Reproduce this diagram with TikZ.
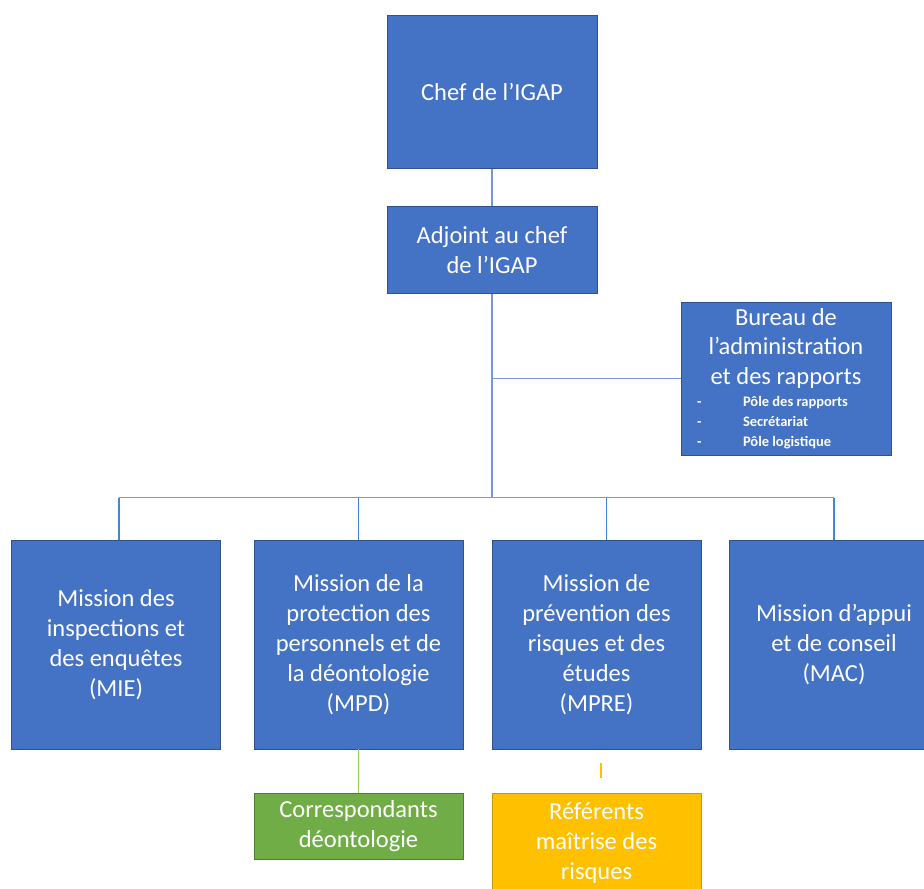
\documentclass[tikz,border=0pt]{standalone}
\usepackage{fontspec}
\setmainfont{Carlito}
\usetikzlibrary{calc}
\definecolor{boxblue}{HTML}{4472C4}
\definecolor{boxedge}{HTML}{2F528F}
\definecolor{busblue}{HTML}{7597DA}
\definecolor{dropblue}{HTML}{3C8AD6}
\definecolor{boxgreen}{HTML}{70AD47}
\definecolor{greenedge}{HTML}{507E32}
\definecolor{linkgreen}{HTML}{92D050}
\definecolor{boxorange}{HTML}{FFC000}
\definecolor{orangeedge}{HTML}{C99A06}
\begin{document}
\begin{tikzpicture}[x=1pt,y=-1pt,
    box/.style={draw=boxedge,fill=boxblue,text=white,line width=0.8pt,inner sep=0pt,
        align=center,minimum width=209pt,font=\fontsize{24.5}{30}\selectfont},
    bus/.style={draw=busblue,line width=1.4pt},
    drop/.style={draw=dropblue,line width=1.3pt}]
\useasboundingbox (0,0) rectangle (924,889);

\node[box,minimum width=210pt,minimum height=153pt] (chef) at (492,92) {Chef de l’IGAP};
\node[box,minimum width=210pt,minimum height=87pt] (adj) at (492,250) {Adjoint au chef\\de l’IGAP};
\node[box,minimum width=210pt,minimum height=153pt] (bureau) at (786,378.5) {\parbox{200pt}{\centering
    \fontsize{24.5}{29.5}\selectfont Bureau de\\l’administration\\et des rapports\par
    \vspace{2pt}\raggedright\fontsize{14.5}{20}\selectfont\bfseries
    \makebox[57pt][l]{\hspace*{11pt}-}Pôle des rapports\\
    \makebox[57pt][l]{\hspace*{11pt}-}Secrétariat\\
    \makebox[57pt][l]{\hspace*{11pt}-}Pôle logistique}};

\node[box,minimum height=209pt] (mie) at (116,644.5) {Mission des\\inspections et\\des enquêtes\\(MIE)};
\node[box,minimum height=209pt] (mpd) at (358.5,644.5) {Mission de la\\protection des\\personnels et de\\la déontologie\\(MPD)};
\node[box,minimum height=209pt] (mpre) at (596.5,644.5) {Mission de\\prévention des\\risques et des\\études\\(MPRE)};
\node[box,minimum height=209pt] (mac) at (834,644.5) {Mission d’appui\\et de conseil\\(MAC)};

\node[box,draw=greenedge,fill=boxgreen,minimum height=66pt] (corr) at (358.5,826) {Correspondants\\déontologie};
\node[box,draw=orangeedge,fill=boxorange,minimum height=100pt] (ref) at (596.5,843) {Référents\\maîtrise des\\risques};

\coordinate (bus) at (492,497.5);
\draw[bus] (chef) -- (adj);
\draw[bus] (adj) -- (bus);
\draw[bus] (adj.south |- bureau.west) -- (bureau.west);
\draw[bus] ([xshift=3pt]mie.north |- bus) -- (mac.north |- bus);
\draw[drop] ([xshift=3pt]mie.north) -- ([xshift=3pt]mie.north |- bus);
\draw[drop] (mpd.north) -- (mpd.north |- bus);
\draw[drop] ([xshift=10pt]mpre.north) -- ([xshift=10pt]mpre.north |- bus);
\draw[drop] (mac.north) -- (mac.north |- bus);

\draw[draw=linkgreen,line width=1.3pt] (mpd.south) -- (corr.north);
\draw[draw=boxorange,line width=2pt] ($(ref.north)+(4,-30)$) -- ++(0,15);
\end{tikzpicture}
\end{document}
